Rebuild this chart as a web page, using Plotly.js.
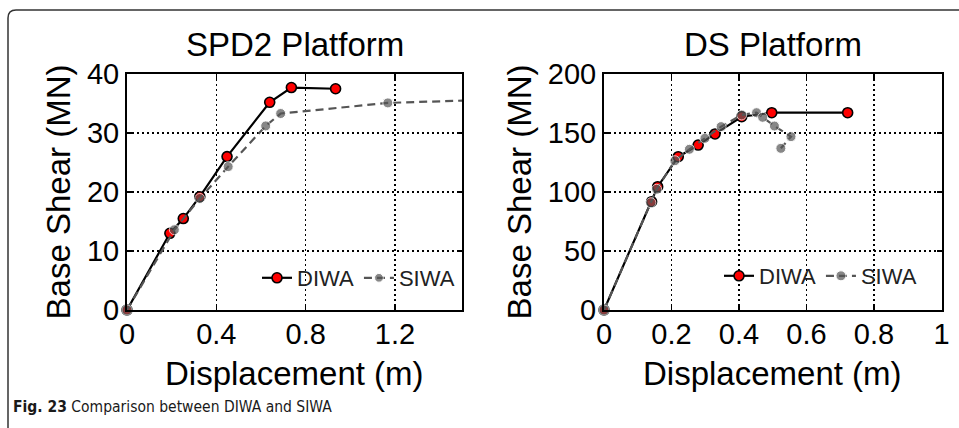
<!DOCTYPE html>
<html>
<head>
<meta charset="utf-8">
<script src="https://cdn.plot.ly/plotly-3.0.1.min.js"></script>
<style>
html,body{margin:0;padding:0;background:#fff;}
#chart{width:959px;height:428px;}
</style>
</head>
<body>
<div id="chart"></div>
<script>
// SPD2 Platform
const spdDiwaX = [0, 0.192, 0.252, 0.326, 0.448, 0.639, 0.736, 0.934];
const spdDiwaY = [0, 13.0, 15.5, 19.2, 26.0, 35.2, 37.7, 37.5];
const spdSiwaX = [0, 0.212, 0.326, 0.453, 0.621, 0.688, 1.168, 1.6];
const spdSiwaY = [0, 13.6, 18.9, 24.3, 31.2, 33.3, 35.1, 35.6];
// DS Platform
const dsDiwaX = [0, 0.141, 0.159, 0.220, 0.279, 0.329, 0.408, 0.497, 0.722];
const dsDiwaY = [0, 91.8, 104.5, 129.9, 139.8, 149.2, 163.8, 167.2, 167.2];
const dsSiwaX = [0, 0.139, 0.156, 0.210, 0.253, 0.299, 0.347, 0.408, 0.452, 0.470, 0.505, 0.554, 0.524];
const dsSiwaY = [0, 90.9, 102.3, 126.5, 136.2, 145.5, 155.4, 165.3, 167.2, 163.3, 155.9, 146.9, 137.0];

const titles = ["SPD2 Platform", "DS Platform"];
const xTitle = "Displacement (m)";
const yTitle = "Base Shear (MN)";
const seriesNames = ["DIWA", "SIWA"];
const caption = ["Fig. 23", "Comparison between DIWA and SIWA"];

const W = 959, H = 428;
const FONT = "Liberation Sans, Arial, Helvetica, sans-serif";
const px = v => v / W;
const py = v => 1 - v / H;

const redMarker = {color: "#ff0000", size: 10, line: {color: "#000", width: 1.6}};
const grayColor = "#555555";

function diwa(x, y, xa, ya, leg) {
  return {x: x, y: y, xaxis: xa, yaxis: ya, type: "scatter", mode: "lines+markers",
    name: seriesNames[0], legend: leg, cliponaxis: false,
    line: {color: "#000", width: 2.2}, marker: redMarker};
}
function siwa(x, y, xa, ya, leg, xmax) {
  return {x: x, y: y, xaxis: xa, yaxis: ya, type: "scatter", mode: "lines+markers",
    name: seriesNames[1], legend: leg, cliponaxis: false,
    line: {color: grayColor, width: 2.2, dash: "8px,5px"},
    marker: {color: grayColor, size: x.map(v => v > xmax ? 0 : 10)}};
}

const data = [
  diwa(spdDiwaX, spdDiwaY, "x", "y", "legend"),
  siwa(spdSiwaX, spdSiwaY, "x", "y", "legend", 1.5),
  diwa(dsDiwaX, dsDiwaY, "x2", "y2", "legend2"),
  siwa(dsSiwaX, dsSiwaY, "x2", "y2", "legend2", 1.0)
];

const tickFont = {family: FONT, size: 29, color: "#000"};
const titleFont = {family: FONT, size: 33, color: "#000"};

function xax(domain, range, dtick, anchor) {
  return {domain: domain, range: range, dtick: dtick, tick0: 0, anchor: anchor,
    showline: true, linecolor: "#000", linewidth: 2, mirror: "ticks",
    ticks: "inside", ticklen: 5, tickwidth: 1.5, tickcolor: "#000",
    showgrid: true, gridcolor: "#000", gridwidth: 1.5, griddash: "2px,3px",
    zeroline: false, tickfont: tickFont, fixedrange: true, ticklabelstandoff: -3};
}
function yax(range, dtick, anchor) {
  return {domain: [py(310), py(74)], range: range, dtick: dtick, tick0: 0, anchor: anchor,
    showline: true, linecolor: "#000", linewidth: 2, mirror: "ticks",
    ticks: "inside", ticklen: 5, tickwidth: 1.5, tickcolor: "#000",
    showgrid: true, gridcolor: "#000", gridwidth: 1.5, griddash: "2px,3px",
    zeroline: false, tickfont: tickFont, fixedrange: true,
    title: {text: yTitle, font: titleFont, standoff: 6}};
}

const legendBase = {orientation: "h", xanchor: "right", yanchor: "middle",
  bgcolor: "rgba(0,0,0,0)", borderwidth: 0,
  font: {family: FONT, size: 22, color: "#222"}, itemclick: false, itemdoubleclick: false};

const layout = {
  width: W, height: H,
  margin: {l: 0, r: 0, t: 0, b: 0},
  paper_bgcolor: "#fff", plot_bgcolor: "#fff",
  showlegend: true,
  xaxis: xax([px(127), px(462)], [0, 1.5], 0.4, "y"),
  yaxis: yax([0, 40], 10, "x"),
  xaxis2: xax([px(604), px(941.5)], [0, 1], 0.2, "y2"),
  yaxis2: yax([0, 200], 50, "x2"),
  legend: Object.assign({x: px(460), y: py(278)}, legendBase),
  legend2: Object.assign({x: px(922), y: py(276)}, legendBase),
  annotations: [
    {text: titles[0], xref: "paper", yref: "paper", x: px(294.5), y: py(44),
     xanchor: "center", yanchor: "middle", showarrow: false, font: titleFont},
    {text: titles[1], xref: "paper", yref: "paper", x: px(772.7), y: py(44),
     xanchor: "center", yanchor: "middle", showarrow: false, font: titleFont},
    {text: xTitle, xref: "paper", yref: "paper", x: px(294.5), y: py(373),
     xanchor: "center", yanchor: "middle", showarrow: false, font: titleFont},
    {text: xTitle, xref: "paper", yref: "paper", x: px(772.7), y: py(373),
     xanchor: "center", yanchor: "middle", showarrow: false, font: titleFont},
    {text: "<b>" + caption[0] + "</b> " + caption[1], xref: "paper", yref: "paper",
     x: px(11), y: py(407), xanchor: "left", yanchor: "middle", showarrow: false,
     font: {family: "DejaVu Sans Condensed, Liberation Sans, sans-serif", size: 15.5, color: "#1a1a1a"}}
  ],
  shapes: [
    {type: "path", xref: "paper", yref: "paper",
     path: "M " + px(8) + "," + py(428) + " L " + px(8) + "," + py(18) +
           " Q " + px(8) + "," + py(10) + " " + px(16) + "," + py(10) + " L 1," + py(10),
     line: {color: "#333", width: 1.5}}
  ]
};

Plotly.newPlot("chart", data, layout, {displayModeBar: false, staticPlot: true});
</script>
</body>
</html>
